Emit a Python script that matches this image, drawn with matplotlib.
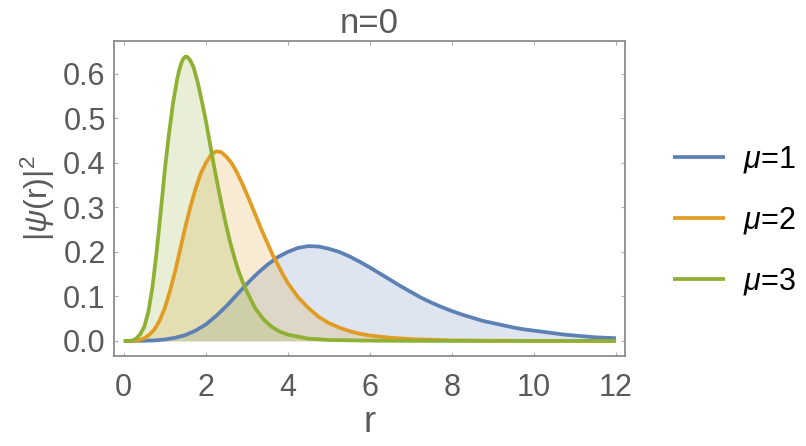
import matplotlib
matplotlib.use('Agg')
import matplotlib.pyplot as plt

# ---- data ----
r_mu1 = [0, 0.25, 0.5, 0.75, 1.0, 1.25, 1.5, 1.75, 2.0, 2.25, 2.5, 2.75, 3.0, 3.25, 3.5, 3.75,
         4.0, 4.25, 4.5, 4.75, 5.0, 5.25, 5.5, 5.75, 6.0, 6.25, 6.5, 6.75, 7.0, 7.25, 7.5, 7.75,
         8.0, 8.25, 8.5, 8.75, 9.0, 9.25, 9.5, 9.75, 10.0, 10.25, 10.5, 10.75, 11.0, 11.25, 11.5,
         11.75, 12.0]
psi_mu1 = [0, 0, 0.0003, 0.001, 0.003, 0.007, 0.013, 0.023, 0.037, 0.056, 0.078, 0.103, 0.128,
           0.151, 0.171, 0.188, 0.200, 0.209, 0.213, 0.212, 0.207, 0.200, 0.190, 0.178, 0.165,
           0.151, 0.137, 0.123, 0.110, 0.097, 0.086, 0.076, 0.067, 0.059, 0.052, 0.045, 0.040,
           0.035, 0.030, 0.026, 0.023, 0.020, 0.017, 0.014, 0.012, 0.010, 0.008, 0.007, 0.006]

r_mu2 = [0, 0.125, 0.25, 0.375, 0.5, 0.625, 0.75, 0.875, 1.0, 1.125, 1.25, 1.375, 1.5, 1.625,
         1.75, 1.875, 2.0, 2.125, 2.25, 2.375, 2.5, 2.625, 2.75, 2.875, 3.0, 3.125, 3.25, 3.375,
         3.5, 3.625, 3.75, 3.875, 4.0, 4.25, 4.5, 4.75, 5.0, 5.25, 5.5, 5.75, 6.0, 6.5, 7.0, 8.0,
         9.0, 10.0, 11.0, 12.0]
psi_mu2 = [0, 0, 0.0006, 0.002, 0.006, 0.014, 0.026, 0.046, 0.074, 0.112, 0.156, 0.206, 0.256,
           0.302, 0.342, 0.376, 0.400, 0.418, 0.426, 0.424, 0.414, 0.400, 0.380, 0.356, 0.330,
           0.302, 0.274, 0.246, 0.220, 0.194, 0.172, 0.150, 0.130, 0.098, 0.074, 0.054, 0.040,
           0.030, 0.022, 0.016, 0.012, 0.007, 0.004, 0.001, 0.0003, 0, 0, 0]

r_mu3 = [0, 0.1, 0.2, 0.3, 0.4, 0.5, 0.6, 0.7, 0.8, 0.9, 1.0, 1.1, 1.2, 1.3, 1.35, 1.4, 1.45,
         1.5, 1.55, 1.6, 1.65, 1.7, 1.8, 1.9, 2.0, 2.1, 2.2, 2.3, 2.4, 2.5, 2.6, 2.7, 2.8, 2.9,
         3.0, 3.2, 3.4, 3.6, 3.8, 4.0, 4.5, 5.0, 6.0, 7.0, 8.0, 9.0, 10.0, 11.0, 12.0]
psi_mu3 = [0, 0, 0.0003, 0.005, 0.015, 0.032, 0.066, 0.122, 0.200, 0.290, 0.384, 0.465, 0.534,
           0.588, 0.608, 0.624, 0.634, 0.639, 0.638, 0.633, 0.625, 0.615, 0.582, 0.540, 0.495,
           0.444, 0.393, 0.345, 0.300, 0.258, 0.219, 0.186, 0.156, 0.132, 0.111, 0.074, 0.049,
           0.032, 0.021, 0.014, 0.005, 0.002, 0.0005, 0, 0, 0, 0, 0, 0]

labels = [r'$\mu$=1', r'$\mu$=2', r'$\mu$=3']
colors = ['#5E81B5', '#E19C24', '#8FB032']
x_ticks = [0, 2, 4, 6, 8, 10, 12]
y_ticks = [0.0, 0.1, 0.2, 0.3, 0.4, 0.5, 0.6]
y_tick_labels = ['0.0', '0.1', '0.2', '0.3', '0.4', '0.5', '0.6']

plt.rcParams['font.family'] = ['Liberation Sans', 'DejaVu Sans']
plt.rcParams['mathtext.fontset'] = 'custom'
plt.rcParams['mathtext.rm'] = 'Liberation Sans'
plt.rcParams['mathtext.it'] = 'Liberation Sans:italic'
plt.rcParams['mathtext.bf'] = 'Liberation Sans:bold'

fig = plt.figure(figsize=(8.06, 4.46), dpi=100)
ax = fig.add_axes([0.1414, 0.2018, 0.634, 0.7063])

series = [(r_mu1, psi_mu1), (r_mu2, psi_mu2), (r_mu3, psi_mu3)]
for (r, p), c in zip(series, colors):
    ax.fill_between(r, 0, p, color=c, alpha=0.2, linewidth=0)
handles = []
for (r, p), c, lab in zip(series, colors, labels):
    h, = ax.plot(r, p, color=c, lw=2.7, label=lab, solid_capstyle='butt',
                 solid_joinstyle='round')
    handles.append(h)

ax.set_xlim(-0.24, 12.22)
ax.set_ylim(-0.034, 0.674)
ax.set_xticks(x_ticks)
ax.set_yticks(y_ticks)
ax.set_yticklabels(y_tick_labels)

frame_col = '#8c8c8c'
text_col = '#5a5a5a'
for s in ax.spines.values():
    s.set_color(frame_col)
    s.set_linewidth(1.3)
ax.tick_params(direction='in', length=3, width=0.8, color='#b0b0b0',
               top=True, right=True, labelsize=22, labelcolor=text_col)
ax.tick_params(axis='x', pad=12)
ax.tick_params(axis='y', pad=6)

ax.set_title('n=0', fontsize=25, color=text_col, pad=6)
ax.set_xlabel('r', fontsize=26, color=text_col, labelpad=2)
ax.set_ylabel(r'$|\psi(\mathrm{r})|^{2}$', fontsize=23, color=text_col, labelpad=4)

fig.legend(handles=handles, labels=labels, loc='center left',
           bbox_to_anchor=(0.835, 0.505), frameon=False, fontsize=22,
           handlelength=1.7, handletextpad=0.59, labelspacing=0.98,
           borderpad=0, borderaxespad=0)

fig.savefig('out.png', dpi=100)
